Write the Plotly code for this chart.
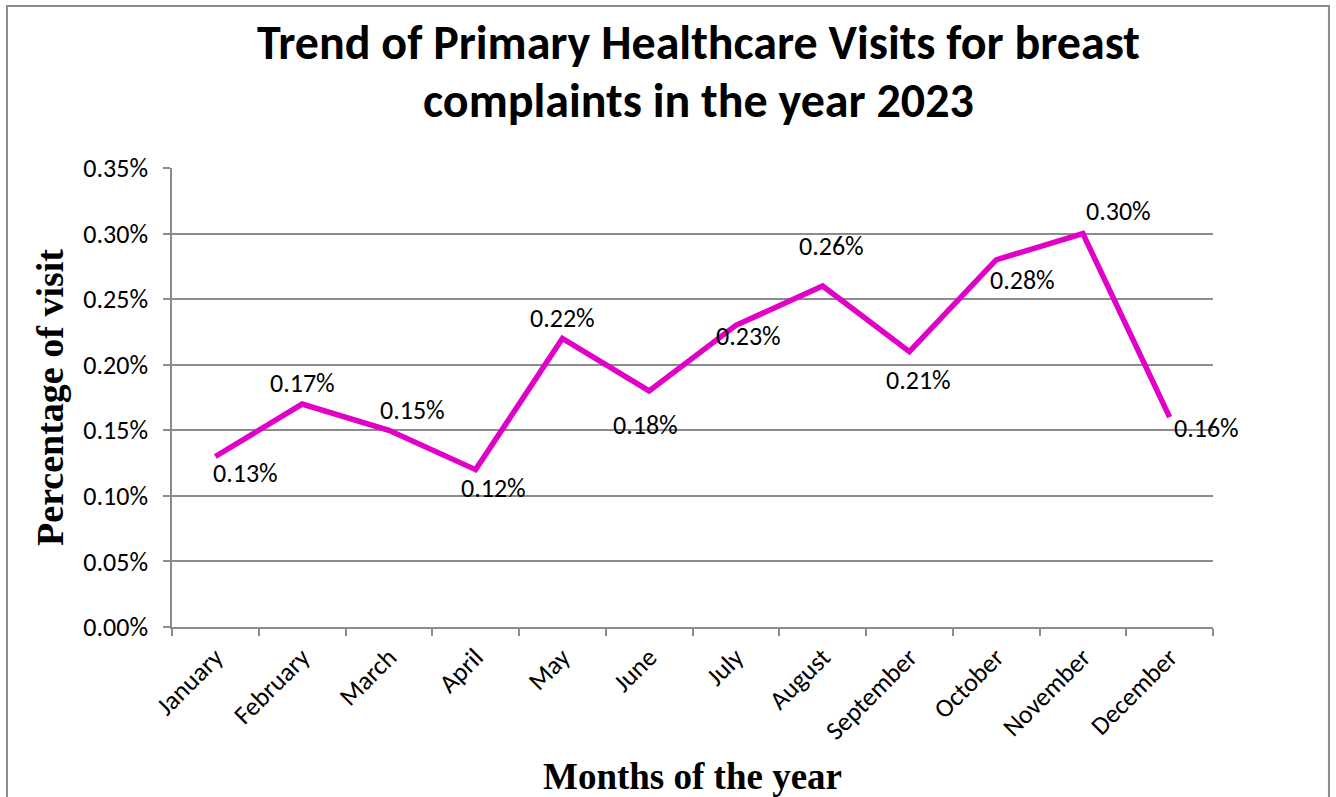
import plotly.graph_objects as go

months = ["January", "February", "March", "April", "May", "June", "July",
          "August", "September", "October", "November", "December"]
visits = [0.0013, 0.0017, 0.0015, 0.0012, 0.0022, 0.0018, 0.0023,
          0.0026, 0.0021, 0.0028, 0.0030, 0.0016]
label_dx = [30, 0, 24, 18, 0, -4, 13, 9, 9, 26, 36, 37]
label_dy = [-16, 21, 20, -18, 20, -34, -11, 40, -28, -20, 23, -11]
title_lines = ["Trend of Primary Healthcare Visits for breast",
               "complaints in the year 2023"]

GRID = "#8c8c8c"
SANS = "Carlito, Lato, sans-serif"
SERIF = "Liberation Serif, Times New Roman, serif"

fig = go.Figure()
fig.add_trace(go.Scatter(
    x=months, y=visits, mode="lines",
    line=dict(color="#E100C8", width=5.5),
    showlegend=False, hoverinfo="skip",
))

for m, v, dx, dy in zip(months, visits, label_dx, label_dy):
    fig.add_annotation(x=m, y=v, text=f"{v*100:.2f}%", showarrow=False,
                       xshift=dx, yshift=dy,
                       font=dict(family=SANS, size=26, color="#000000"))

for txt, ty in zip(title_lines, [1.2745, 1.1481]):
    fig.add_annotation(xref="paper", yref="paper", x=0.506, y=ty,
                       text=f"<b>{txt}</b>", showarrow=False,
                       xanchor="center", yanchor="middle",
                       font=dict(family=SANS, size=48, color="#000000"))

fig.update_layout(
    width=1336, height=797,
    paper_bgcolor="white", plot_bgcolor="white",
    margin=dict(l=172, r=123, t=168, b=170),
    xaxis=dict(
        type="category", range=[-0.5, 11.5], tickson="boundaries",
        ticks="outside", ticklen=7, automargin=False,
        tickcolor=GRID, tickwidth=1.5, showgrid=False,
        showline=True, linecolor=GRID, linewidth=1.5,
        tickangle=-45, tickfont=dict(family=SANS, size=26, color="#000000"),
        ticklabelstandoff=3,
        title=dict(text="<b>Months of the year</b>",
                   font=dict(family=SERIF, size=37, color="#000000"), standoff=20),
        zeroline=False,
    ),
    yaxis=dict(
        range=[0, 0.0035], dtick=0.0005, tickformat=".2%",
        ticks="outside", ticklen=7, tickcolor=GRID, tickwidth=1.5,
        showgrid=True, gridcolor=GRID, gridwidth=1.5,
        showline=True, linecolor=GRID, linewidth=1.5,
        zeroline=False, ticklabelstandoff=10, automargin=False,
        tickfont=dict(family=SANS, size=26, color="#000000"),
        title=dict(text="<b>Percentage of visit</b>",
                   font=dict(family=SERIF, size=38, color="#000000"), standoff=8),
    ),
)

# figure border
fig.add_shape(type="rect", xref="paper", yref="paper",
              x0=-0.1585, x1=1.1114, y0=-0.40, y1=1.3529,
              line=dict(color="#8c8c8c", width=2), fillcolor="rgba(0,0,0,0)",
              layer="below")

fig.write_html("out.html", config={"displayModeBar": False},
               post_script="document.body.style.margin='0';")
